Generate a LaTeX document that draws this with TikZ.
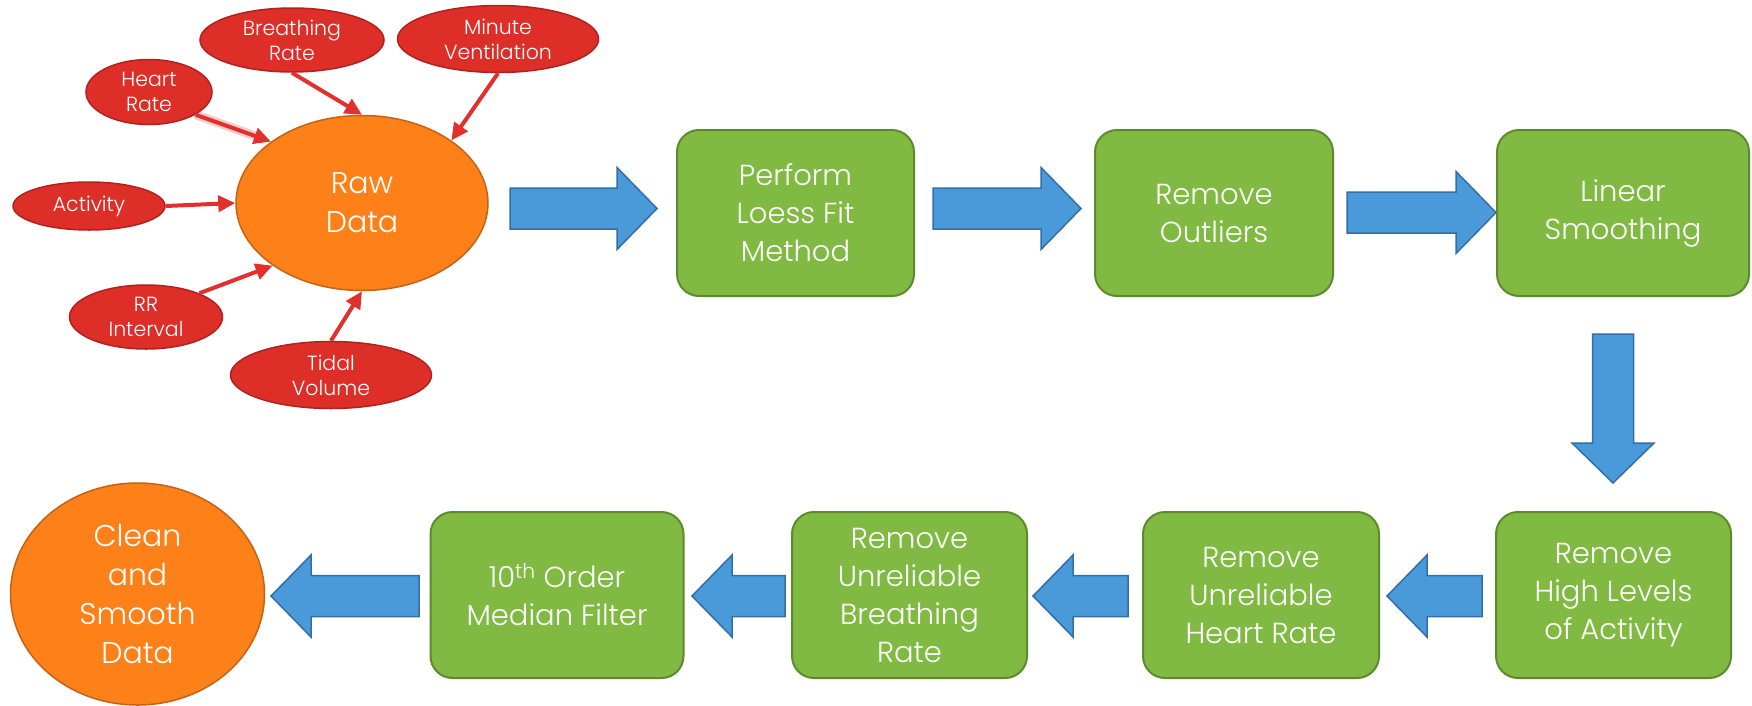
\documentclass[tikz,border=0pt]{standalone}
\usepackage{fontspec}
\setmainfont{Poppins Light}
\usetikzlibrary{shapes.geometric,arrows.meta}

\definecolor{inred}{RGB}{222,46,40}
\definecolor{inredline}{RGB}{176,34,30}
\definecolor{arrred}{RGB}{226,48,44}
\definecolor{dataorange}{RGB}{253,129,24}
\definecolor{dataorangeline}{RGB}{196,98,22}
\definecolor{stepgreen}{RGB}{129,186,66}
\definecolor{stepgreenline}{RGB}{94,138,46}
\definecolor{flowblue}{RGB}{74,154,218}
\definecolor{flowblueline}{RGB}{50,110,168}

\tikzset{
  inputell/.style={ellipse, fill=inred, draw=inredline, line width=1.5pt,
    inner sep=0pt, align=center, text=white,
    font=\fontsize{20.5}{25}\selectfont},
  dataell/.style={ellipse, fill=dataorange, draw=dataorangeline, line width=1.5pt,
    inner sep=0pt, align=center, text=white,
    font=\fontsize{30}{39}\selectfont},
  stepbox/.style={rectangle, rounded corners=22pt, fill=stepgreen,
    draw=stepgreenline, line width=2pt, minimum height=166pt,
    inner sep=0pt, align=center, text=white,
    font=\fontsize{29}{38}\selectfont},
  feed/.style={draw=arrred, line width=4pt,
    -{Triangle[length=17pt,width=16pt]}},
  % block arrow pointing along +x, centred on the pic origin; #1 = overall length
  pics/fatarrow/.style={code={
    \draw[fill=flowblue, draw=flowblueline, line width=1.5pt, line join=miter]
      (-#1/2,-20.5) -- (#1/2-40,-20.5) -- (#1/2-40,-41) -- (#1/2,0)
      -- (#1/2-40,41) -- (#1/2-40,20.5) -- (-#1/2,20.5) -- cycle;
  }},
}

\begin{document}
\begin{tikzpicture}[x=1pt,y=-1pt]
\useasboundingbox (0,0) rectangle (1752,705);

% measured inputs around the raw data
\node[dataell, minimum width=252pt, minimum height=175pt] (raw) at (362,203) {Raw\\Data};
\node[inputell, minimum width=184pt, minimum height=64pt] (br) at (292,40) {Breathing\\Rate};
\node[inputell, minimum width=201pt, minimum height=67pt] (mv) at (498,39) {Minute\\Ventilation};
\node[inputell, minimum width=126pt, minimum height=65pt] (hr) at (149,92) {Heart\\Rate};
\node[inputell, minimum width=152pt, minimum height=48pt] (act) at (89,206) {Activity};
\node[inputell, minimum width=153pt, minimum height=64pt] (rr) at (146,317) {RR\\Interval};
\node[inputell, minimum width=201pt, minimum height=67pt] (tv) at (331,375) {Tidal\\Volume};

% soft halo under the heart-rate feed
\draw[arrred, line width=9pt, opacity=0.25, shorten >=8pt] (hr.-26) -- (raw.146);
\draw[feed] (hr.-26) -- (raw.146);
\draw[feed] (br.south) -- (raw.north);
\draw[feed] (mv.south) -- (raw.35);
\draw[feed] (act.east) -- (raw.west);
\draw[feed] (rr.24) -- (raw.215);
\draw[feed] (tv.north) -- (raw.south);

% processing steps
\node[stepbox, minimum width=237pt] (perf) at (795.5,213) {Perform\\Loess Fit\\Method};
\node[stepbox, minimum width=238pt] (outl) at (1214,213) {Remove\\Outliers};
\node[stepbox, minimum width=252pt] (lin) at (1623,213) {Linear\\Smoothing};
\node[stepbox, minimum width=235pt] (hact) at (1613.5,595) {Remove\\High Levels\\of Activity};
\node[stepbox, minimum width=236pt] (uhr) at (1261,595) {Remove\\Unreliable\\Heart Rate};
\node[stepbox, minimum width=235pt] (ubr) at (909.5,595) {Remove\\Unreliable\\Breathing\\Rate};
\node[stepbox, minimum width=253pt] (med) at (557,595) {10\textsuperscript{th} Order\\Median Filter};
\node[dataell, minimum width=254pt, minimum height=222pt] (clean) at (137.5,594) {Clean\\and\\Smooth\\Data};

% block arrows between the stages
\pic (f1) at (583.5,208.5) {fatarrow=147};
\pic (f2) at (1007,208.5) {fatarrow=148};
\pic (f3) at (1421.5,212.5) {fatarrow=149};
\pic[rotate=-90] (f4) at (1613,408.5) {fatarrow=149};
\pic[rotate=180] (f5) at (1434.5,596) {fatarrow=95};
\pic[rotate=180] (f6) at (1080.5,596) {fatarrow=95};
\pic[rotate=180] (f7) at (738.5,596) {fatarrow=93};
\pic[rotate=180] (f8) at (345,596) {fatarrow=148};
\end{tikzpicture}
\end{document}
